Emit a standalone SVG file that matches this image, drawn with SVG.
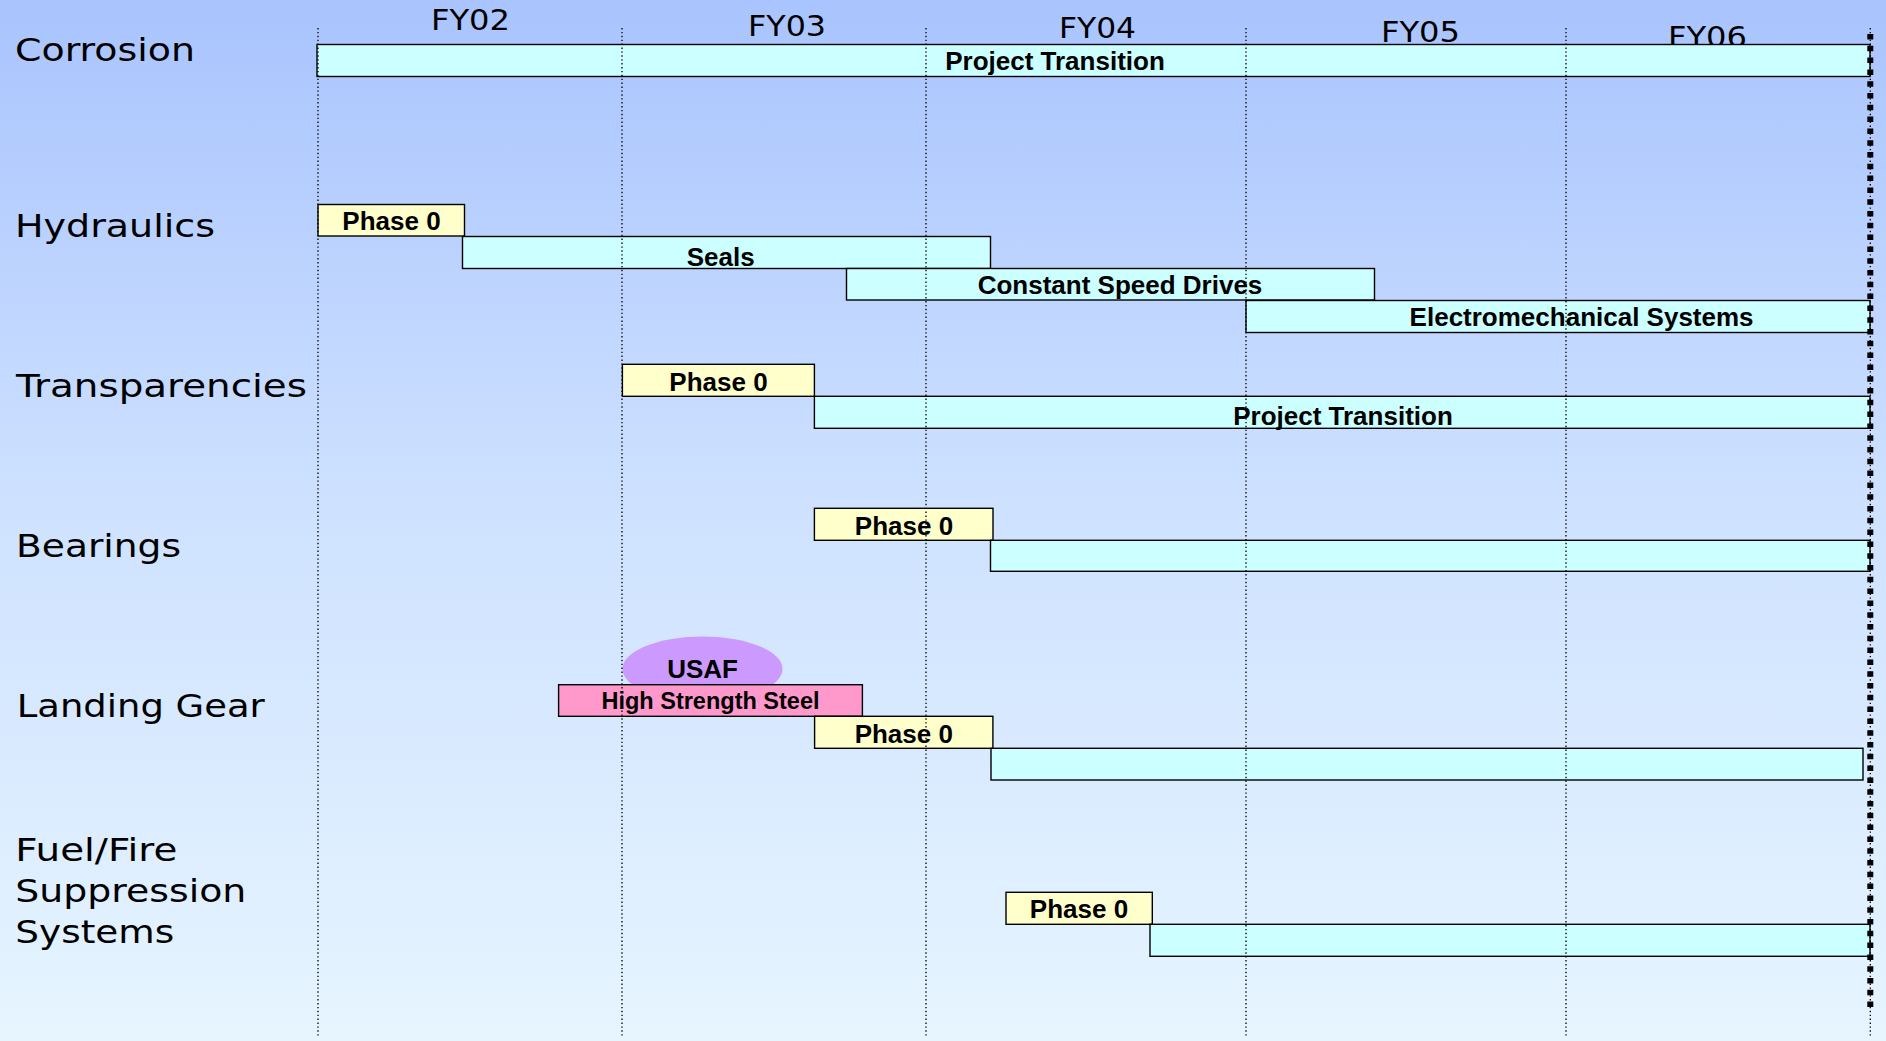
<svg xmlns="http://www.w3.org/2000/svg" width="1886" height="1041" viewBox="0 0 1886 1041">
<defs>
<linearGradient id="bg" x1="0" y1="0" x2="0" y2="1">
<stop offset="0" stop-color="#A9C4FE"/>
<stop offset="0.5" stop-color="#CFE2FF"/>
<stop offset="1" stop-color="#E6F5FF"/>
</linearGradient>
<style>
.lbl{font-family:"DejaVu Sans",Verdana,sans-serif;font-size:32px;fill:#000;}
.yr{font-family:"DejaVu Sans",Verdana,sans-serif;font-size:27.5px;fill:#000;}
.bt{font-family:"Liberation Sans",Arial,sans-serif;font-size:26px;font-weight:bold;fill:#000;text-anchor:middle;}
.cyan{fill:#CCFFFF;stroke:#000;stroke-width:1.4;}
.yel{fill:#FFFFCC;stroke:#000;stroke-width:1.4;}
.pink{fill:#FF99CC;stroke:#000;stroke-width:1.4;}
.grid{stroke:#000;stroke-width:1.3;stroke-dasharray:1.4 2.5;fill:none;}
</style>
</defs>
<rect x="0" y="0" width="1886" height="1041" fill="url(#bg)"/>

<g id="years">
<text class="yr" x="431" y="30" textLength="79" lengthAdjust="spacingAndGlyphs">FY02</text>
<text class="yr" x="748" y="36" textLength="78" lengthAdjust="spacingAndGlyphs">FY03</text>
<text class="yr" x="1059" y="38.3" textLength="77" lengthAdjust="spacingAndGlyphs">FY04</text>
<text class="yr" x="1381" y="41.7" textLength="79" lengthAdjust="spacingAndGlyphs">FY05</text>
<text class="yr" x="1668" y="47" textLength="79" lengthAdjust="spacingAndGlyphs">FY06</text>
</g>

<g id="labels">
<text class="lbl" x="15" y="61" textLength="180" lengthAdjust="spacingAndGlyphs">Corrosion</text>
<text class="lbl" x="15" y="237" textLength="200" lengthAdjust="spacingAndGlyphs">Hydraulics</text>
<text class="lbl" x="16" y="396.7" textLength="291" lengthAdjust="spacingAndGlyphs">Transparencies</text>
<text class="lbl" x="16" y="556.7" textLength="165" lengthAdjust="spacingAndGlyphs">Bearings</text>
<text class="lbl" x="16.7" y="717.3" textLength="248" lengthAdjust="spacingAndGlyphs">Landing Gear</text>
<text class="lbl" x="15.3" y="861" textLength="162" lengthAdjust="spacingAndGlyphs">Fuel/Fire</text>
<text class="lbl" x="15.3" y="901.7" textLength="231" lengthAdjust="spacingAndGlyphs">Suppression</text>
<text class="lbl" x="15.3" y="943.3" textLength="159" lengthAdjust="spacingAndGlyphs">Systems</text>
</g>

<g id="corrosion-transition">
<rect class="cyan" x="317" y="44.5" width="1553" height="32"/>
<text class="bt" x="1055" y="70">Project Transition</text>
</g>

<g id="hydraulics-phase0">
<rect class="yel" x="318" y="204.5" width="146.5" height="31.5"/>
<text class="bt" x="391.5" y="230">Phase 0</text>
</g>
<g id="hydraulics-seals">
<rect class="cyan" x="462.5" y="236.5" width="528" height="32"/>
<text class="bt" x="720.7" y="265.7">Seals</text>
</g>
<g id="hydraulics-csd">
<rect class="cyan" x="846.5" y="268.5" width="528" height="31.5"/>
<text class="bt" x="1120" y="294.3">Constant Speed Drives</text>
</g>
<g id="hydraulics-ems">
<rect class="cyan" x="1246" y="300.5" width="624" height="32"/>
<text class="bt" x="1581.6" y="326">Electromechanical Systems</text>
</g>

<g id="transparencies-phase0">
<rect class="yel" x="622.4" y="364.3" width="192" height="32"/>
<text class="bt" x="718.5" y="390.7">Phase 0</text>
</g>
<g id="transparencies-transition">
<rect class="cyan" x="814.4" y="396.3" width="1055.6" height="32"/>
<text class="bt" x="1343" y="424.5">Project Transition</text>
</g>

<g id="bearings-phase0">
<rect class="yel" x="814.4" y="508.3" width="178.6" height="32"/>
<text class="bt" x="904" y="535">Phase 0</text>
</g>
<g id="bearings-bar">
<rect class="cyan" x="990.5" y="540.3" width="879.5" height="31"/>
</g>

<g id="usaf">
<ellipse cx="702.5" cy="669" rx="80" ry="32.5" fill="#CC99FF"/>
<text class="bt" x="702.6" y="678.3">USAF</text>
</g>
<g id="landing-hss">
<rect class="pink" x="558.6" y="684.7" width="303.8" height="31.6"/>
<text class="bt" x="710.5" y="709.3" style="font-size:23.5px">High Strength Steel</text>
</g>
<g id="landing-phase0">
<rect class="yel" x="814.6" y="716.3" width="178.3" height="32"/>
<text class="bt" x="903.8" y="742.7">Phase 0</text>
</g>
<g id="landing-bar">
<rect class="cyan" x="991" y="748.3" width="872" height="31.7"/>
</g>

<g id="fuel-phase0">
<rect class="yel" x="1006" y="892.3" width="146.3" height="32"/>
<text class="bt" x="1079" y="918.3">Phase 0</text>
</g>
<g id="fuel-bar">
<rect class="cyan" x="1150" y="924.3" width="720" height="32"/>
</g>

<g id="gridlines">
<line class="grid" x1="318" y1="28" x2="318" y2="1036"/>
<line class="grid" x1="622" y1="28" x2="622" y2="1036"/>
<line class="grid" x1="926" y1="28" x2="926" y2="1036"/>
<line class="grid" x1="1246" y1="28" x2="1246" y2="1036"/>
<line class="grid" x1="1566" y1="28" x2="1566" y2="1036"/>
<line class="grid" x1="1870.3" y1="28" x2="1870.3" y2="1036"/>
<line x1="1870.3" y1="34" x2="1870.3" y2="1009" stroke="#000" stroke-width="6" stroke-dasharray="5.5 6.3"/>
</g>
</svg>
